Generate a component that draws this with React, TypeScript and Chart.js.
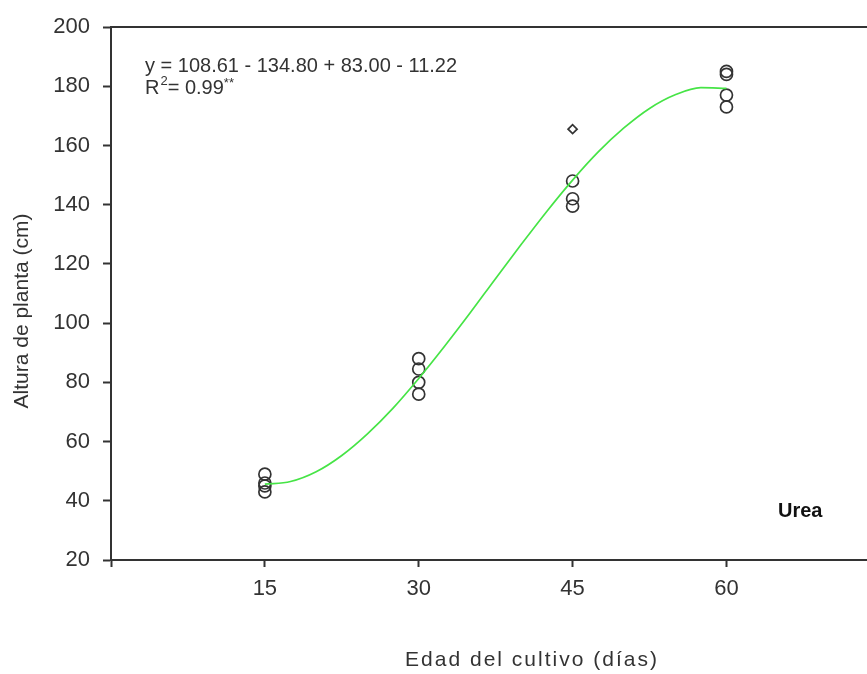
import React, { useEffect, useRef } from "react";
import { Chart, registerables } from "chart.js";

Chart.register(...registerables);

// ---- data ----
const xTickValues = [0, 15, 30, 45, 60];
const xTickLabels = ["", "15", "30", "45", "60"];
const yTickValues = [20, 40, 60, 80, 100, 120, 140, 160, 180, 200];

const days = [15, 30, 45, 60];
const obsDay15 = [49, 46, 45, 43];
const obsDay30 = [88, 84.5, 80, 76];
const obsDay45 = [165.5, 148, 142, 139.5];
const obsDay60 = [185, 184, 177, 173];

// fitted curve read along its path
const fitDays = [15, 17.5, 20, 22.5, 25, 27.5, 30, 32.5, 35, 37.5, 40, 42.5, 45, 47.5, 50, 52.5, 55, 57.5, 60];
const fitHeights = [45.6, 46.5, 49.8, 55.3, 62.6, 71.3, 81.3, 92.1, 103.4, 115.1, 126.6, 137.8, 148.3, 157.8, 165.9, 172.5, 177.1, 179.5, 179.3];

const equationText = "y = 108.61 - 134.80 + 83.00 - 11.22";
const r2Value = "= 0.99";
const seriesLabel = "Urea";
const xTitle = "Edad del cultivo (días)";
const yTitle = "Altura de planta (cm)";

const FONT = 'Arial, "Liberation Sans", sans-serif';

export default function App() {
  const canvasRef = useRef<HTMLCanvasElement | null>(null);

  useEffect(() => {
    document.body.style.margin = "0";
    const canvas = canvasRef.current;
    if (!canvas) return;

    const groups = [obsDay15, obsDay30, obsDay45, obsDay60];
    const points: { x: number; y: number }[] = [];
    const radii: number[] = [];
    const styles: string[] = [];
    groups.forEach((g, gi) => {
      g.forEach((v, vi) => {
        points.push({ x: days[gi], y: v });
        const small = gi === 2 && vi === 0;
        radii.push(small ? 4.5 : 6);
        styles.push(small ? "rectRot" : "circle");
      });
    });

    const textPlugin = {
      id: "extras",
      afterDraw(chart: any) {
        const { ctx, chartArea } = chart;
        ctx.save();
        // top frame line
        ctx.strokeStyle = "#333";
        ctx.lineWidth = 2;
        ctx.beginPath();
        ctx.moveTo(chartArea.left, chartArea.top);
        ctx.lineTo(chartArea.right, chartArea.top);
        ctx.stroke();

        ctx.fillStyle = "#333";
        ctx.textBaseline = "middle";
        ctx.textAlign = "left";
        // equation
        ctx.font = `20px ${FONT}`;
        ctx.fillText(equationText, 145, 66);
        // R^2 line
        let x = 145;
        ctx.fillText("R", x, 88);
        x += ctx.measureText("R").width + 1;
        ctx.font = `13px ${FONT}`;
        ctx.fillText("2", x, 81);
        x += ctx.measureText("2").width;
        ctx.font = `20px ${FONT}`;
        ctx.fillText(r2Value, x, 88);
        x += ctx.measureText(r2Value).width;
        ctx.font = `13px ${FONT}`;
        ctx.fillText("**", x, 83);

        // series label
        ctx.font = `bold 20px ${FONT}`;
        ctx.fillStyle = "#111";
        ctx.fillText(seriesLabel, 778, 511);

        // x title
        ctx.fillStyle = "#333";
        ctx.font = `21px ${FONT}`;
        ctx.textAlign = "center";
        (ctx as any).letterSpacing = "2px";
        ctx.fillText(xTitle, 532, 660);
        (ctx as any).letterSpacing = "0px";

        // y title
        ctx.translate(22, 311);
        ctx.rotate(-Math.PI / 2);
        ctx.font = `21px ${FONT}`;
        ctx.fillText(yTitle, 0, 0);
        ctx.restore();
      },
    };

    const chart = new Chart(canvas, {
      type: "scatter",
      data: {
        datasets: [
          {
            label: "fit",
            data: fitDays.map((d, i) => ({ x: d, y: fitHeights[i] })),
            showLine: true,
            borderColor: "rgb(70,228,70)",
            borderWidth: 1.7,
            pointRadius: 0,
            cubicInterpolationMode: "monotone",
            fill: false,
          } as any,
          {
            label: "obs",
            data: points,
            pointRadius: radii,
            pointStyle: styles as any,
            pointBorderColor: "#333",
            pointBackgroundColor: "rgba(0,0,0,0)",
            pointBorderWidth: 1.7,
          } as any,
        ],
      },
      options: {
        responsive: false,
        animation: false,
        layout: { autoPadding: false, padding: { top: 27, left: 0, right: 0, bottom: 0 } },
        plugins: {
          legend: { display: false },
          tooltip: { enabled: false },
          title: { display: false },
        },
        scales: {
          x: {
            type: "linear",
            min: 0,
            max: 73.7,
            afterFit(scale: any) {
              scale.height = 114;
            },
            afterBuildTicks(scale: any) {
              scale.ticks = xTickValues.map((v) => ({ value: v }));
            },
            ticks: {
              autoSkip: false,
              maxRotation: 0,
              padding: 9,
              color: "#333",
              font: { family: FONT, size: 22 },
              callback: (v: any) => {
                const i = xTickValues.indexOf(Number(v));
                return i >= 0 ? xTickLabels[i] : "";
              },
            },
            grid: {
              drawOnChartArea: false,
              drawTicks: true,
              tickLength: 7,
              tickWidth: 2,
              tickColor: "#333",
            },
            border: { display: true, color: "#333", width: 2 },
          },
          y: {
            type: "linear",
            min: 20,
            max: 200,
            afterFit(scale: any) {
              scale.width = 111;
            },
            afterBuildTicks(scale: any) {
              scale.ticks = yTickValues.map((v) => ({ value: v }));
            },
            ticks: {
              padding: 13,
              color: "#333",
              font: { family: FONT, size: 22 },
            },
            grid: {
              drawOnChartArea: false,
              drawTicks: true,
              tickLength: 8,
              tickWidth: 2,
              tickColor: "#333",
            },
            border: { display: true, color: "#333", width: 2 },
          },
        },
      },
      plugins: [textPlugin],
    });

    return () => chart.destroy();
  }, []);

  return (
    <div style={{ width: 867, height: 674, position: "relative", background: "#fff" }}>
      <canvas ref={canvasRef} width={867} height={674} style={{ display: "block" }} />
    </div>
  );
}
